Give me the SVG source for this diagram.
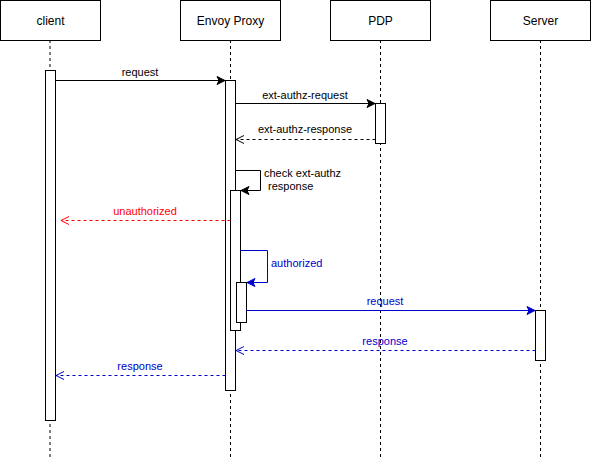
<svg xmlns="http://www.w3.org/2000/svg" width="591" height="461" viewBox="0 0 591 461">
<defs>
<style>
.box{fill:#fff;stroke:#000;stroke-width:1}
.life{stroke:#000;stroke-width:1;stroke-dasharray:3 3;fill:none}
.act{fill:#fff;stroke:#000;stroke-width:1}
.t{font-family:"Liberation Sans",Arial,sans-serif;font-size:12px;text-anchor:middle;fill:#000}
.l{font-family:"Liberation Sans",Arial,sans-serif;font-size:11px;text-anchor:middle}
.s{text-anchor:start}
.msg{fill:none;stroke-width:1}
.dash{stroke-dasharray:3 3}
</style>
<marker id="fb" markerWidth="10" markerHeight="10" refX="9" refY="5" orient="auto" markerUnits="userSpaceOnUse"><path d="M1,1 L9,5 L1,9 L3,5 Z" fill="#000" stroke="#000"/></marker>
<marker id="fu" markerWidth="10" markerHeight="10" refX="9" refY="5" orient="auto" markerUnits="userSpaceOnUse"><path d="M1,1 L9,5 L1,9 L3,5 Z" fill="#0000CC" stroke="#0000CC"/></marker>
<marker id="ob" markerWidth="10" markerHeight="10" refX="9" refY="5" orient="auto" markerUnits="userSpaceOnUse"><path d="M1,1 L9,5 L1,9" fill="none" stroke="#000"/></marker>
<marker id="or" markerWidth="10" markerHeight="10" refX="9" refY="5" orient="auto" markerUnits="userSpaceOnUse"><path d="M1,1 L9,5 L1,9" fill="none" stroke="#FF0000"/></marker>
<marker id="ou" markerWidth="10" markerHeight="10" refX="9" refY="5" orient="auto" markerUnits="userSpaceOnUse"><path d="M1,1 L9,5 L1,9" fill="none" stroke="#0000CC"/></marker>
</defs>
<rect width="591" height="461" fill="#fff"/>
<g id="client">
<line class="life" x1="50" y1="40" x2="50" y2="460"/>
<rect class="box" x="0.5" y="0.5" width="100" height="40"/>
<text class="t" x="50.5" y="25">client</text>
<rect class="act" x="45.5" y="70.5" width="10" height="350"/>
</g>
<g id="envoy">
<line class="life" x1="230.5" y1="40" x2="230.5" y2="460"/>
<rect class="box" x="180.5" y="0.5" width="100" height="40"/>
<text class="t" x="230.5" y="25">Envoy Proxy</text>
<rect class="act" x="225.5" y="80.5" width="10" height="310"/>
<rect class="act" x="230.5" y="190.5" width="10" height="140"/>
<rect class="act" x="236.5" y="282.5" width="10" height="40"/>
</g>
<g id="pdp">
<line class="life" x1="380.5" y1="40" x2="380.5" y2="460"/>
<rect class="box" x="330.5" y="0.5" width="100" height="40"/>
<text class="t" x="380.5" y="25">PDP</text>
<rect class="act" x="375.5" y="103.5" width="10" height="40"/>
</g>
<g id="server">
<line class="life" x1="540.5" y1="40" x2="540.5" y2="460"/>
<rect class="box" x="490.5" y="0.5" width="100" height="40"/>
<text class="t" x="540.5" y="25">Server</text>
<rect class="act" x="535.5" y="310.5" width="10" height="50"/>
</g>
<g id="connectors">
<line class="msg" stroke="#000" x1="55.5" y1="80.5" x2="225" y2="80.5" marker-end="url(#fb)"/>
<text class="l" x="140" y="76" fill="#000">request</text>
<line class="msg" stroke="#000" x1="235.5" y1="103.5" x2="375" y2="103.5" marker-end="url(#fb)"/>
<text class="l" x="305" y="99" fill="#000">ext-authz-request</text>
<line class="msg dash" stroke="#000" x1="375.5" y1="139.5" x2="236" y2="139.5" marker-end="url(#ob)"/>
<text class="l" x="305" y="133" fill="#000">ext-authz-response</text>
<path class="msg" stroke="#000" d="M235.5,170.5 H260.5 V190.5 H241" marker-end="url(#fb)"/>
<text class="l s" x="264" y="177" fill="#000">check ext-authz</text>
<text class="l s" x="268" y="190" fill="#000">response</text>
<line class="msg dash" stroke="#FF0000" x1="230.5" y1="220.5" x2="61" y2="220.5" marker-end="url(#or)"/>
<text class="l" x="145" y="215" fill="#FF0000">unauthorized</text>
<path class="msg" stroke="#0000CC" d="M240.5,250.5 H267.5 V282.5 H247" marker-end="url(#fu)"/>
<text class="l s" x="271" y="267" fill="#0000CC">authorized</text>
<line class="msg" stroke="#0000CC" x1="246.5" y1="310.5" x2="535" y2="310.5" marker-end="url(#fu)"/>
<text class="l" x="385" y="305" fill="#0000CC">request</text>
<line class="msg dash" stroke="#0000CC" x1="535.5" y1="350.5" x2="236" y2="350.5" marker-end="url(#ou)"/>
<text class="l" x="385" y="345" fill="#0000CC">response</text>
<line class="msg dash" stroke="#0000CC" x1="225.5" y1="375.5" x2="56" y2="375.5" marker-end="url(#ou)"/>
<text class="l" x="140" y="370" fill="#0000CC">response</text>
</g>
</svg>
